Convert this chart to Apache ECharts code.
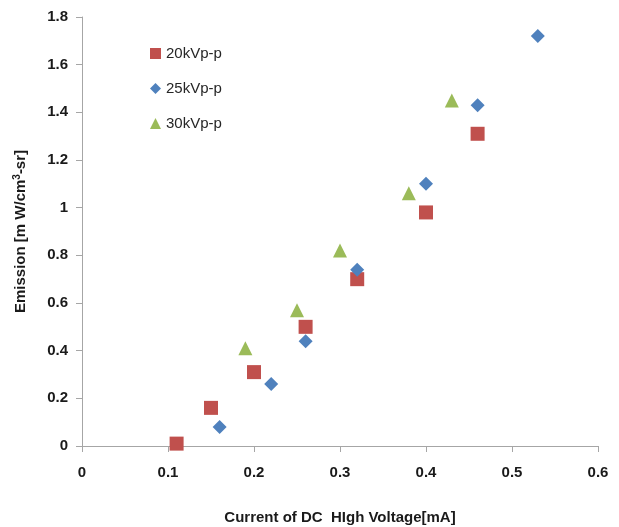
<!DOCTYPE html>
<html>
<head>
<meta charset="utf-8">
<script src="https://cdn.jsdelivr.net/npm/echarts@6/dist/echarts.min.js"></script>
<style>
  html, body { margin: 0; padding: 0; background: #fff; }
  #main { width: 619px; height: 527px; }
</style>
</head>
<body>
<div id="main"></div>
<script>
  // data: [current mA, emission]
  var seriesNames = ['20kVp-p', '25kVp-p', '30kVp-p'];
  var data20 = [[0.11, 0.01], [0.15, 0.16], [0.20, 0.31], [0.26, 0.50], [0.32, 0.70], [0.40, 0.98], [0.46, 1.31]];
  var data25 = [[0.16, 0.08], [0.22, 0.26], [0.26, 0.44], [0.32, 0.74], [0.40, 1.10], [0.46, 1.43], [0.53, 1.72]];
  var data30 = [[0.19, 0.41], [0.25, 0.57], [0.30, 0.82], [0.38, 1.06], [0.43, 1.45]];

  var axisColor = '#a6a6a6';
  var fontFam = 'Liberation Sans, Arial, sans-serif';
  var labelFont = { color: '#1a1a1a', fontWeight: 'bold', fontSize: 15, fontFamily: fontFam };

  function fmt(v) { return v === 0 ? '0' : String(+v.toFixed(1)); }

  var myChart = echarts.init(document.getElementById('main'));

  var option = {
    backgroundColor: '#fff',
    animation: false,
    grid: { left: 82, right: 21, top: 17, bottom: 81, outerBoundsMode: 'none' },
    legend: {
      orient: 'vertical',
      left: 145,
      top: 41,
      itemGap: 20,
      itemWidth: 11,
      itemHeight: 11,
      textStyle: { color: '#262626', fontSize: 15, fontFamily: fontFam },
      data: seriesNames
    },
    xAxis: {
      type: 'value',
      min: 0, max: 0.6, interval: 0.1,
      name: 'Current of DC  HIgh Voltage[mA]',
      nameLocation: 'middle',
      nameGap: 64,
      nameTextStyle: { color: '#1a1a1a', fontWeight: 'bold', fontSize: 15, fontFamily: fontFam },
      axisLine: { show: true, lineStyle: { color: axisColor } },
      axisTick: { show: true, inside: false, length: 6, lineStyle: { color: axisColor } },
      axisLabel: Object.assign({ margin: 19, formatter: fmt }, labelFont),
      splitLine: { show: false }
    },
    yAxis: {
      type: 'value',
      min: 0, max: 1.8, interval: 0.2,
      name: '{a|Emission [m W/cm}{s|3}{a|-sr]}',
      nameLocation: 'middle',
      nameGap: 52,
      nameTextStyle: {
        rich: {
          a: { color: '#1a1a1a', fontWeight: 'bold', fontSize: 15, fontFamily: fontFam },
          s: { color: '#1a1a1a', fontWeight: 'bold', fontSize: 10, verticalAlign: 'top', padding: [0, 0, 8, 0], fontFamily: fontFam }
        }
      },
      axisLine: { show: true, lineStyle: { color: axisColor } },
      axisTick: { show: true, inside: false, length: 6, lineStyle: { color: axisColor } },
      axisLabel: Object.assign({ margin: 14, formatter: fmt }, labelFont),
      splitLine: { show: false }
    },
    series: [
      {
        name: seriesNames[0], type: 'scatter', data: data20,
        symbol: 'rect', symbolSize: 14,
        itemStyle: { color: '#C0504D', opacity: 1 }
      },
      {
        name: seriesNames[1], type: 'scatter', data: data25,
        symbol: 'diamond', symbolSize: 14,
        itemStyle: { color: '#4F81BD', opacity: 1 }
      },
      {
        name: seriesNames[2], type: 'scatter', data: data30,
        symbol: 'triangle', symbolSize: 14,
        itemStyle: { color: '#9BBB59', opacity: 1 }
      }
    ]
  };

  myChart.setOption(option);
</script>
</body>
</html>
